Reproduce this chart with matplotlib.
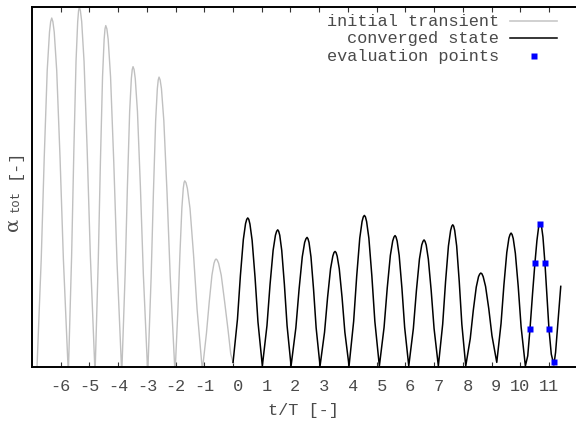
import matplotlib
matplotlib.use('Agg')
import matplotlib.pyplot as plt
from matplotlib.lines import Line2D

# initial transient (grey), t/T and alpha_tot (arbitrary units, axis 0..1)
transient_t = [-6.835, -6.678, -6.574, -6.470, -6.391, -6.350, -6.313, -6.273, -6.226, -6.140, -6.024, -5.908,
               -5.735, -5.620, -5.543, -5.467, -5.409, -5.379, -5.352, -5.314, -5.270, -5.188, -5.078, -4.969,
               -4.805, -4.693, -4.618, -4.544, -4.488, -4.458, -4.432, -4.393, -4.348, -4.265, -4.153, -4.042,
               -3.875, -3.757, -3.678, -3.600, -3.541, -3.510, -3.482, -3.446, -3.405, -3.328, -3.226, -3.124,
               -2.970, -2.852, -2.773, -2.695, -2.636, -2.605, -2.577, -2.538, -2.493, -2.410, -2.298, -2.187,
               -2.020, -1.919, -1.851, -1.783, -1.733, -1.706, -1.682, -1.639, -1.590, -1.498, -1.375, -1.253,
               -1.069, -0.926, -0.830, -0.735, -0.664, -0.625, -0.592, -0.550, -0.502, -0.411, -0.291, -0.171,
               -0.080, 0.010]
transient_a = [-0.02, 0.300, 0.581, 0.823, 0.929, 0.958, 0.968, 0.958, 0.929, 0.823, 0.581, 0.300,
               -0.02, 0.309, 0.599, 0.848, 0.958, 0.988, 0.998, 0.988, 0.958, 0.848, 0.599, 0.309,
               -0.02, 0.294, 0.568, 0.805, 0.909, 0.938, 0.947, 0.938, 0.909, 0.805, 0.568, 0.294,
               -0.02, 0.258, 0.500, 0.708, 0.800, 0.825, 0.833, 0.825, 0.800, 0.708, 0.500, 0.258,
               -0.02, 0.249, 0.482, 0.683, 0.772, 0.796, 0.804, 0.796, 0.772, 0.683, 0.482, 0.249,
               -0.02, 0.160, 0.310, 0.439, 0.495, 0.511, 0.516, 0.511, 0.495, 0.439, 0.310, 0.160,
               -0.01, 0.093, 0.179, 0.254, 0.287, 0.296, 0.299, 0.296, 0.287, 0.254, 0.179, 0.100,
               0.035, 0.010]

# converged state (black)
converged_t = [0.000, 0.154, 0.256, 0.358, 0.435, 0.476, 0.512, 0.548, 0.588, 0.664, 0.766, 0.868,
               1.020, 1.181, 1.288, 1.395, 1.476, 1.518, 1.556, 1.588, 1.626, 1.695, 1.788, 1.881,
               2.020, 2.187, 2.299, 2.410, 2.493, 2.538, 2.577, 2.609, 2.645, 2.713, 2.803, 2.893,
               3.029, 3.186, 3.291, 3.395, 3.474, 3.515, 3.552, 3.586, 3.625, 3.698, 3.796, 3.893,
               4.039, 4.199, 4.306, 4.412, 4.492, 4.535, 4.572, 4.609, 4.650, 4.729, 4.833, 4.937,
               5.094, 5.258, 5.368, 5.477, 5.559, 5.603, 5.641, 5.674, 5.713, 5.784, 5.880, 5.975,
               6.118, 6.278, 6.384, 6.490, 6.570, 6.613, 6.650, 6.685, 6.725, 6.799, 6.899, 6.999,
               7.148, 7.299, 7.399, 7.499, 7.575, 7.615, 7.650, 7.682, 7.718, 7.786, 7.876, 7.966,
               8.102, 8.259, 8.364, 8.468, 8.547, 8.588, 8.625, 8.664, 8.709, 8.792, 8.904, 9.015,
               9.182, 9.331, 9.431, 9.531, 9.605, 9.645, 9.680, 9.715, 9.755, 9.829, 9.929, 10.029,
               10.178, 10.26, 10.34, 10.43, 10.51, 10.58, 10.64, 10.69, 10.74, 10.79, 10.86, 10.93,
               11.00, 11.08, 11.17, 11.23, 11.29, 11.35, 11.41]
converged_a = [0.012, 0.132, 0.253, 0.353, 0.397, 0.409, 0.413, 0.409, 0.396, 0.351, 0.248, 0.124,
               0.002, 0.114, 0.228, 0.323, 0.365, 0.376, 0.380, 0.376, 0.365, 0.323, 0.228, 0.114,
               0.002, 0.108, 0.215, 0.305, 0.345, 0.355, 0.359, 0.355, 0.345, 0.305, 0.215, 0.108,
               0.002, 0.096, 0.192, 0.272, 0.307, 0.317, 0.320, 0.317, 0.307, 0.272, 0.192, 0.096,
               0.002, 0.126, 0.252, 0.357, 0.403, 0.416, 0.420, 0.416, 0.403, 0.357, 0.252, 0.126,
               0.002, 0.109, 0.218, 0.309, 0.349, 0.360, 0.364, 0.360, 0.349, 0.309, 0.218, 0.109,
               0.002, 0.106, 0.211, 0.299, 0.338, 0.348, 0.352, 0.348, 0.338, 0.299, 0.211, 0.106,
               0.002, 0.118, 0.236, 0.335, 0.378, 0.390, 0.394, 0.390, 0.378, 0.335, 0.236, 0.118,
               0.002, 0.078, 0.156, 0.221, 0.250, 0.257, 0.260, 0.258, 0.250, 0.223, 0.161, 0.086,
               0.012, 0.120, 0.227, 0.317, 0.357, 0.367, 0.371, 0.367, 0.356, 0.315, 0.223, 0.111,
               0.002, 0.030, 0.106, 0.205, 0.287, 0.350, 0.388, 0.397, 0.390, 0.360, 0.287, 0.195,
               0.104, 0.035, 0.005, 0.040, 0.100, 0.160, 0.223]

# evaluation points (blue squares)
eval_t = [10.34, 10.51, 10.69, 10.86, 11.00, 11.18]
eval_a = [0.106, 0.287, 0.395, 0.287, 0.104, 0.012]

xticks = list(range(-6, 12))
xtick_labels = ['%2d' % v for v in xticks]

W, H = 576, 421
mono = 'Liberation Mono'
txt = '#4a4a4a'

fig = plt.figure(figsize=(W / 100, H / 100), dpi=100)
ax = fig.add_axes([32 / W, (H - 366.7) / H, 545.7 / W, 360.2 / H])

ax.plot(transient_t, transient_a, color='#c0c0c0', lw=1.0)
ax.plot(converged_t, converged_a, color='black', lw=1.1)
ax.plot(eval_t, eval_a, 's', color='#0000ff', ms=4.5, mec='none')

ax.set_xlim(-7, 12)
ax.set_ylim(0, 1)
ax.set_yticks([])
ax.set_xticks(xticks)
ax.set_xticklabels(xtick_labels, fontfamily=mono, fontsize=12.2, color=txt)
ax.tick_params(axis='x', direction='in', length=3.6, width=0.8, color='#333333',
               top=True, pad=8.5)
for s in ax.spines.values():
    s.set_linewidth(1.4)

# axis labels (gnuplot style, monospace)
fig.text(303 / W, 1 - 410 / H, 't/T [-]', fontfamily=mono, fontsize=12.2,
         color=txt, ha='center', va='center')
fig.text(13 / W, 1 - 224 / H, 'α', fontfamily='DejaVu Serif', fontsize=14,
         color=txt, rotation=90, ha='center', va='center')
fig.text(16 / W, 1 - 201 / H, 'tot', fontfamily=mono, fontsize=8.8,
         color=txt, rotation=90, ha='center', va='center')
fig.text(14 / W, 1 - 164 / H, '[-]', fontfamily=mono, fontsize=12.2,
         color=txt, rotation=90, ha='center', va='center')

# legend, right-aligned text with samples on the right
rows = [('initial transient', 21.7), ('converged state', 39.0), ('evaluation points', 56.0)]
for label, y in rows:
    fig.text(499 / W, 1 - y / H, label, fontfamily=mono, fontsize=12.2,
             color=txt, ha='right', va='center')
fig.add_artist(Line2D([510 / W, 557 / W], [1 - 21 / H] * 2, color='#c8c8c8', lw=1.2))
fig.add_artist(Line2D([510 / W, 557 / W], [1 - 38.3 / H] * 2, color='black', lw=1.1))
fig.add_artist(Line2D([534 / W], [1 - 56 / H], marker='s', ms=4.5, color='#0000ff',
                      mec='none', ls='none'))

plt.savefig('out.png', dpi=100)
